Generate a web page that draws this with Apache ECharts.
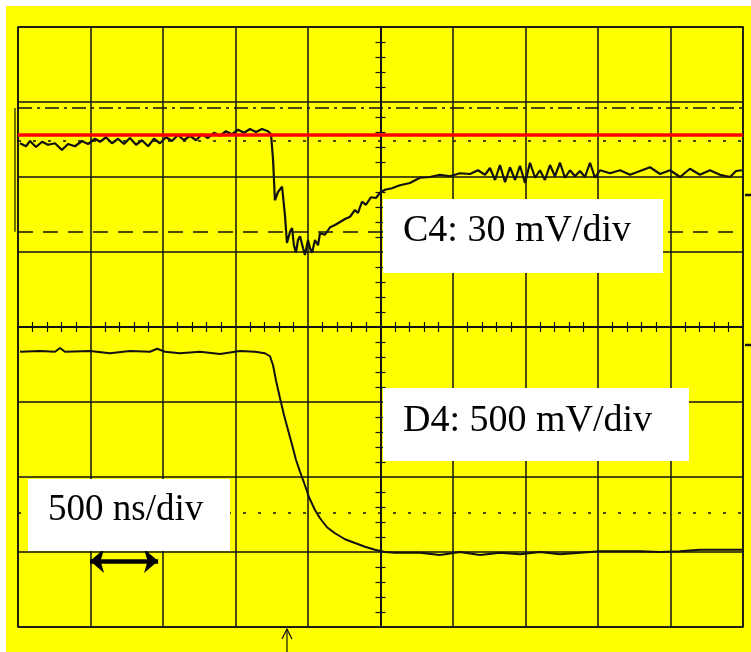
<!DOCTYPE html>
<html>
<head>
<meta charset="utf-8">
<script src="https://cdn.jsdelivr.net/npm/echarts@6/dist/echarts.min.js"></script>
<style>
html, body { margin: 0; padding: 0; background: #fff; }
#frame { position: relative; width: 751px; height: 652px; background: #fff; overflow: hidden; }
#main { position: absolute; left: 6px; top: 6px; width: 745px; height: 646px; }
</style>
</head>
<body>
<div id="frame"><div id="main"></div></div>
<script>
'use strict';

// time in ns relative to screen centre (500 ns/div), values in screen divisions
var c4Trace = [
    [-2486, 2.45], [-2445, 2.41], [-2417, 2.48], [-2376, 2.40], [-2334, 2.47], [-2293, 2.43],
    [-2245, 2.45], [-2197, 2.36], [-2155, 2.44], [-2107, 2.41], [-2059, 2.48], [-2017, 2.44],
    [-1969, 2.51], [-1934, 2.47], [-1893, 2.53], [-1852, 2.45], [-1810, 2.51], [-1769, 2.44],
    [-1728, 2.52], [-1686, 2.43], [-1645, 2.49], [-1603, 2.41], [-1562, 2.51], [-1521, 2.45],
    [-1479, 2.53], [-1438, 2.48], [-1397, 2.56], [-1355, 2.49], [-1314, 2.55], [-1272, 2.49],
    [-1231, 2.57], [-1190, 2.52], [-1148, 2.59], [-1107, 2.55], [-1066, 2.61], [-1024, 2.57],
    [-983, 2.63], [-941, 2.59], [-900, 2.64], [-859, 2.60], [-817, 2.64], [-776, 2.61],
    [-755, 2.57], [-741, 2.23], [-728, 1.69], [-707, 1.80], [-679, 1.87], [-659, 1.49],
    [-645, 1.12], [-624, 1.27], [-610, 1.32], [-597, 1.09], [-583, 0.99], [-569, 1.16],
    [-555, 1.21], [-534, 1.05], [-521, 0.96], [-500, 1.16], [-486, 1.05], [-472, 0.99],
    [-452, 1.16], [-431, 1.09], [-417, 1.25], [-383, 1.23], [-348, 1.33], [-314, 1.36],
    [-279, 1.40], [-245, 1.44], [-210, 1.47], [-176, 1.56], [-155, 1.52], [-128, 1.67],
    [-100, 1.63], [-66, 1.73], [-31, 1.72], [-3, 1.79], [31, 1.83], [79, 1.85],
    [134, 1.89], [203, 1.92], [272, 1.99], [341, 2.00], [410, 2.03], [479, 2.01],
    [548, 2.05], [617, 2.04], [672, 2.09], [721, 2.03], [755, 2.12], [790, 1.96],
    [824, 2.16], [859, 1.93], [893, 2.13], [928, 1.96], [962, 2.15], [997, 1.92],
    [1031, 2.19], [1066, 1.99], [1100, 2.09], [1134, 1.96], [1169, 2.16], [1203, 2.01],
    [1238, 2.19], [1272, 1.99], [1307, 2.09], [1341, 2.01], [1376, 2.08], [1410, 2.00],
    [1445, 2.19], [1479, 1.99], [1514, 2.09], [1583, 2.05], [1652, 2.09], [1721, 2.03],
    [1790, 2.08], [1859, 2.13], [1928, 2.04], [1997, 2.09], [2066, 2.00], [2134, 2.11],
    [2203, 2.03], [2272, 2.09], [2341, 2.03], [2410, 2.00], [2452, 2.08], [2493, 2.09]
];

var d4Trace = [
    [-2486, -0.33], [-2348, -0.32], [-2245, -0.33], [-2210, -0.28], [-2176, -0.33],
    [-2003, -0.32], [-1866, -0.35], [-1728, -0.32], [-1590, -0.33], [-1541, -0.29],
    [-1486, -0.33], [-1383, -0.35], [-1245, -0.33], [-1107, -0.36], [-969, -0.32],
    [-866, -0.33], [-797, -0.35], [-762, -0.39], [-741, -0.51], [-721, -0.71],
    [-693, -0.95], [-666, -1.17], [-638, -1.37], [-610, -1.57], [-583, -1.77],
    [-555, -1.93], [-521, -2.11], [-493, -2.27], [-452, -2.44], [-417, -2.55],
    [-369, -2.67], [-314, -2.75], [-245, -2.83], [-176, -2.88], [-107, -2.93],
    [-38, -2.97], [31, -3.00], [100, -3.01], [272, -3.01], [410, -3.04],
    [548, -3.00], [686, -3.04], [824, -3.01], [962, -3.03], [1100, -3.00],
    [1238, -3.03], [1376, -3.01], [1514, -2.99], [1652, -2.99], [1790, -2.99],
    [1928, -3.00], [2066, -2.99], [2203, -2.97], [2341, -2.97], [2493, -2.97]
];

// scope cursors / markers (divisions)
var c4DashDot = 2.92;
var c4Dotted = 2.49;
var c4Dashed = 1.27;
var refLevel = 2.56;
var d4Dotted = -2.48;
var groundMarks = [1.76, -0.24];
var triggerTime = -645;
var scaleBar = [-2003, -1534, -3.12];

var xMin = -2500, xMax = 2500, xStep = 500;
var yMin = -4, yMax = 4, yStep = 1;

var gridBox = { left: 12, top: 21, width: 725, height: 600 };
var ink = '#111';

function cursor(v, type, color, width) {
    return { yAxis: v, lineStyle: { type: type, color: color, width: width } };
}

var chart = echarts.init(document.getElementById('main'), null, { renderer: 'canvas' });

function axisPair(gridIndex, main) {
    var tickSide = !main;
    return {
        x: {
            type: 'value', gridIndex: gridIndex, min: xMin, max: xMax, interval: xStep,
            axisLine: { show: true, onZero: true, lineStyle: { color: ink, width: 1.5 } },
            axisTick: { show: false, inside: tickSide },
            minorTick: { show: true, splitNumber: 5, length: 5, lineStyle: { color: ink, width: 1.2 } },
            axisLabel: { show: false },
            splitLine: { show: main, lineStyle: { color: ink, width: 1.5 } }
        },
        y: {
            type: 'value', gridIndex: gridIndex, min: yMin, max: yMax, interval: yStep,
            axisLine: { show: true, onZero: true, lineStyle: { color: ink, width: 1.5 } },
            axisTick: { show: false, inside: tickSide },
            minorTick: { show: true, splitNumber: 5, length: 5, lineStyle: { color: ink, width: 1.2 } },
            axisLabel: { show: false },
            splitLine: { show: main, lineStyle: { color: ink, width: 1.5 } }
        }
    };
}

var a0 = axisPair(0, true);
var a1 = axisPair(1, false);

// label boxes, pixel layout; ty = vertical centre of the capitals
var textBoxes = [
    { x: 377, y: 193, w: 280, h: 74, ty: 225, text: 'C4: 30 mV/div', size: 38 },
    { x: 377, y: 382, w: 306, h: 73, ty: 415, text: 'D4: 500 mV/div', size: 38 },
    { x: 22, y: 473, w: 202, h: 72, ty: 504, text: '500 ns/div', size: 37 }
];

var option = {
    animation: false,
    backgroundColor: '#ffff00',
    grid: [
        { left: gridBox.left, top: gridBox.top, width: gridBox.width, height: gridBox.height,
          show: true, borderColor: ink, borderWidth: 1.5 },
        { left: gridBox.left, top: gridBox.top, width: gridBox.width, height: gridBox.height }
    ],
    xAxis: [a0.x, a1.x],
    yAxis: [a0.y, a1.y],
    series: [
        {
            name: 'C4', type: 'line', xAxisIndex: 0, yAxisIndex: 0,
            data: c4Trace, showSymbol: false, z: 3,
            lineStyle: { color: ink, width: 2.2 },
            markLine: {
                silent: true, symbol: ['none', 'none'], label: { show: false },
                data: [
                    cursor(c4DashDot, [14, 5, 3, 5], ink, 1.5),
                    cursor(c4Dotted, [3, 12], ink, 1.5),
                    cursor(c4Dashed, [15, 10], ink, 1.5),
                    cursor(refLevel, 'solid', '#ff0000', 3.5)
                ]
            }
        },
        {
            name: 'D4', type: 'line', xAxisIndex: 0, yAxisIndex: 0,
            data: d4Trace, showSymbol: false, z: 3,
            lineStyle: { color: ink, width: 2 },
            markLine: {
                silent: true, symbol: ['none', 'none'], label: { show: false },
                data: [
                    cursor(d4Dotted, [3, 12], ink, 1.5),
                    [
                        { coord: [scaleBar[0], scaleBar[2]], symbol: 'arrow', symbolSize: [18, 14] },
                        { coord: [scaleBar[1], scaleBar[2]], symbol: 'arrow', symbolSize: [18, 14],
                          lineStyle: { type: 'solid', color: '#000', width: 4.5 } }
                    ]
                ]
            }
        }
    ]
};

chart.setOption(option);

// scope decorations placed through the grid's own scale
var els = [];
textBoxes.forEach(function (b) {
    els.push({ type: 'rect', z: 100, shape: { x: b.x, y: b.y, width: b.w, height: b.h },
        style: { fill: '#fff' } });
    els.push({ type: 'text', z: 101, style: { x: b.x + 20, y: b.ty, text: b.text,
        font: b.size + 'px "Liberation Serif", "Times New Roman", serif',
        fill: '#000', textVerticalAlign: 'middle' } });
});

var top1 = chart.convertToPixel({ gridIndex: 0 }, [xMin, c4DashDot]);
var bot1 = chart.convertToPixel({ gridIndex: 0 }, [xMin, c4Dashed]);
els.push({ type: 'line', z: 50, shape: { x1: top1[0] - 3, y1: top1[1], x2: bot1[0] - 3, y2: bot1[1] },
    style: { stroke: ink, lineWidth: 1.2 } });

groundMarks.forEach(function (v) {
    var p = chart.convertToPixel({ gridIndex: 0 }, [xMax, v]);
    els.push({ type: 'line', z: 50, shape: { x1: p[0] + 2, y1: p[1], x2: p[0] + 10, y2: p[1] },
        style: { stroke: ink, lineWidth: 2.5 } });
});

var tp = chart.convertToPixel({ gridIndex: 0 }, [triggerTime, yMin]);
els.push({ type: 'polyline', z: 50, shape: { points: [[tp[0] - 5, tp[1] + 12], [tp[0], tp[1] + 2], [tp[0] + 5, tp[1] + 12]] },
    style: { stroke: ink, lineWidth: 1.2, fill: null } });
els.push({ type: 'line', z: 50, shape: { x1: tp[0], y1: tp[1] + 2, x2: tp[0], y2: tp[1] + 30 },
    style: { stroke: ink, lineWidth: 1.2 } });

chart.setOption({ graphic: { elements: els } });
</script>
</body>
</html>
